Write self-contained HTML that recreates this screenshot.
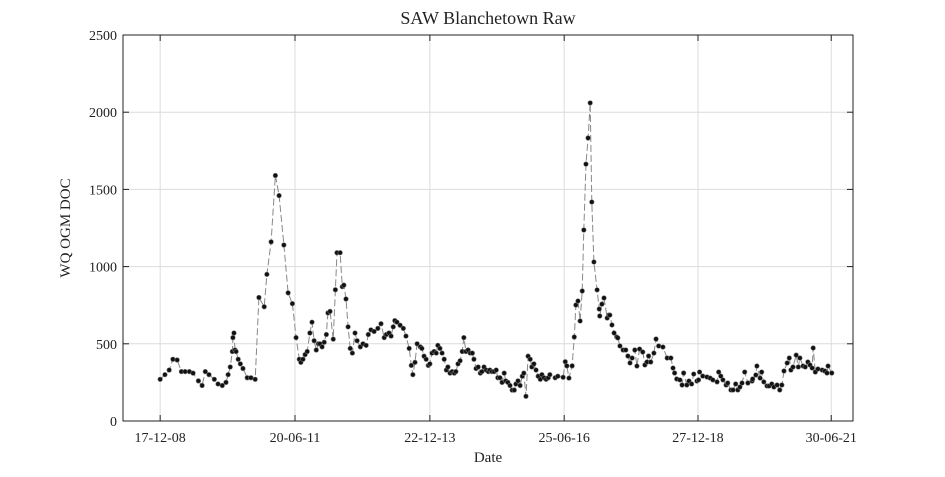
<!DOCTYPE html>
<html><head><meta charset="utf-8"><style>
body{margin:0;background:#fff;width:945px;height:472px;overflow:hidden}
svg text{font-family:"Liberation Serif",serif;fill:#222}
</style></head><body>
<svg id="chart" width="945" height="472" xmlns="http://www.w3.org/2000/svg">
<rect x="0" y="0" width="945" height="472" fill="#fff"/>
<text x="488" y="24" font-size="18" text-anchor="middle">SAW Blanchetown Raw</text>
<text transform="translate(70,228) rotate(-90)" font-size="15" text-anchor="middle">WQ OGM DOC</text>
<text x="488" y="462" font-size="15" text-anchor="middle">Date</text>
<g id="grid"></g>
<g id="axes"></g>
<g id="series"></g>
</svg>
<script>
const years=[2008.96,2009.05,2009.13,2009.20,2009.28,2009.36,2009.43,2009.51,2009.58,2009.68,2009.75,2009.81,2009.88,2009.98,2010.05,2010.13,2010.20,2010.24,2010.28,2010.32,2010.33,2010.35,2010.37,2010.39,2010.43,2010.47,2010.52,2010.60,2010.67,2010.75,2010.82,2010.92,2010.97,2011.05,2011.13,2011.20,2011.29,2011.37,2011.45,2011.52,2011.58,2011.61,2011.65,2011.69,2011.73,2011.78,2011.82,2011.86,2011.90,2011.94,2011.97,2012.01,2012.05,2012.09,2012.12,2012.16,2012.22,2012.26,2012.29,2012.35,2012.39,2012.42,2012.46,2012.50,2012.54,2012.58,2012.63,2012.67,2012.73,2012.78,2012.84,2012.88,2012.93,2012.99,2013.06,2013.12,2013.18,2013.22,2013.27,2013.31,2013.35,2013.38,2013.42,2013.48,2013.54,2013.59,2013.65,2013.69,2013.72,2013.76,2013.80,2013.86,2013.89,2013.93,2013.97,2014.01,2014.04,2014.08,2014.12,2014.16,2014.19,2014.23,2014.27,2014.31,2014.35,2014.38,2014.42,2014.46,2014.50,2014.53,2014.57,2014.61,2014.65,2014.68,2014.72,2014.76,2014.80,2014.84,2014.87,2014.91,2014.95,2014.99,2015.02,2015.06,2015.10,2015.14,2015.17,2015.21,2015.25,2015.29,2015.32,2015.36,2015.40,2015.44,2015.47,2015.51,2015.55,2015.59,2015.63,2015.66,2015.70,2015.74,2015.78,2015.81,2015.85,2015.89,2015.93,2015.96,2016.00,2016.04,2016.08,2016.12,2016.15,2016.19,2016.23,2016.27,2016.30,2016.40,2016.45,2016.55,2016.59,2016.62,2016.66,2016.72,2016.76,2016.79,2016.83,2016.87,2016.91,2016.94,2016.98,2017.02,2017.06,2017.09,2017.13,2017.19,2017.23,2017.24,2017.28,2017.32,2017.38,2017.41,2017.43,2017.47,2017.51,2017.56,2017.58,2017.62,2017.68,2017.73,2017.77,2017.81,2017.85,2017.90,2017.94,2017.99,2018.05,2018.09,2018.13,2018.16,2018.20,2018.26,2018.30,2018.35,2018.43,2018.51,2018.58,2018.62,2018.65,2018.69,2018.75,2018.79,2018.82,2018.88,2018.92,2018.97,2019.01,2019.07,2019.10,2019.12,2019.18,2019.26,2019.32,2019.37,2019.45,2019.48,2019.52,2019.56,2019.62,2019.65,2019.71,2019.75,2019.80,2019.84,2019.88,2019.92,2019.97,2020.03,2020.11,2020.12,2020.18,2020.20,2020.26,2020.29,2020.33,2020.39,2020.43,2020.48,2020.52,2020.58,2020.63,2020.67,2020.71,2020.77,2020.81,2020.84,2020.88,2020.94,2020.98,2021.01,2021.07,2021.11,2021.16,2021.20,2021.24,2021.26,2021.30,2021.35,2021.43,2021.48,2021.52,2021.54,2021.61];
const docValues=[270,300,330,400,395,320,320,320,310,260,230,320,300,270,240,230,250,300,350,450,540,570,460,450,400,370,340,280,280,270,800,740,950,1160,1590,1460,1140,830,760,540,400,380,400,430,450,570,640,520,460,500,500,480,510,560,700,710,530,850,1090,1090,870,880,790,610,470,440,570,520,480,500,490,560,590,580,600,630,540,560,570,550,610,650,640,620,600,550,470,360,300,380,500,480,470,420,400,360,370,440,450,440,490,470,440,400,330,350,310,320,310,320,370,390,450,540,450,460,440,440,400,340,350,310,320,350,330,320,330,320,320,330,280,280,250,310,260,250,230,200,200,240,260,230,290,310,160,420,400,350,370,330,290,270,300,280,270,280,300,280,290,283,384,357,278,357,544,751,777,648,842,1237,1664,1833,2060,1418,1030,849,725,680,757,797,667,686,686,622,570,544,538,486,460,460,421,376,408,460,356,466,447,363,382,421,382,440,531,486,479,408,408,343,311,272,266,233,311,233,259,240,304,259,266,317,291,285,278,266,253,317,291,266,233,246,201,201,240,201,220,246,317,246,259,272,298,356,278,317,253,227,227,240,220,233,201,233,324,376,408,330,350,427,350,408,356,350,382,363,343,473,317,337,330,324,311,356,311,330];
const yTicks=[0,500,1000,1500,2000,2500];
const xTickYears=[2008.96,2011.50,2014.04,2016.57,2019.09,2021.60];
const xTickLabels=["17-12-08","20-06-11","22-12-13","25-06-16","27-12-18","30-06-21"];
const L=123,R=853,T=35,B=421,X0=2008.26,X1=2022.01,Y0=0,Y1=2500;
const xS=v=>L+(v-X0)/(X1-X0)*(R-L);
const yS=v=>B-(v-Y0)/(Y1-Y0)*(B-T);
const NS="http://www.w3.org/2000/svg";
function mk(tag,attrs,parent){const e=document.createElementNS(NS,tag);for(const k in attrs)e.setAttribute(k,attrs[k]);parent.appendChild(e);return e;}
const grid=document.getElementById('grid'),axes=document.getElementById('axes'),series=document.getElementById('series');
yTicks.forEach(v=>{const y=yS(v);
 const g=mk('line',{x1:L,x2:R,y1:y,y2:y,stroke:'#dcdcdc','stroke-width':1},grid);
 
 
 mk('line',{x1:L,x2:L+6,y1:y,y2:y,stroke:'#222'},axes);
 mk('line',{x1:R,x2:R-6,y1:y,y2:y,stroke:'#222'},axes);
 const t=mk('text',{x:L-6,y:y+5,'font-size':14,'text-anchor':'end'},axes);t.textContent=v;
 
 
});
xTickYears.forEach((v,i)=>{const x=xS(v);
 const g=mk('line',{x1:x,x2:x,y1:T,y2:B,stroke:'#dcdcdc','stroke-width':1},grid);
 
 
 mk('line',{x1:x,x2:x,y1:B,y2:B-6,stroke:'#222'},axes);
 mk('line',{x1:x,x2:x,y1:T,y2:T+6,stroke:'#222'},axes);
 const t=mk('text',{x:x,y:B+21,'font-size':14,'text-anchor':'middle'},axes);t.textContent=xTickLabels[i];
 
 
});
const box=mk('rect',{x:L,y:T,width:R-L,height:B-T,fill:'none',stroke:'#222','stroke-width':1},axes);


const pts=years.map((yr,i)=>xS(yr).toFixed(1)+','+yS(docValues[i]).toFixed(1)).join(' ');
const line=mk('polyline',{points:pts,fill:'none',stroke:'#888','stroke-width':1,'stroke-dasharray':'7,3'},series);


years.forEach((yr,i)=>{
 const c=mk('circle',{cx:xS(yr),cy:yS(docValues[i]),r:2.3,fill:'#111',stroke:'#777','stroke-width':0.6},series);
 
 
});
</script>
</body></html>
